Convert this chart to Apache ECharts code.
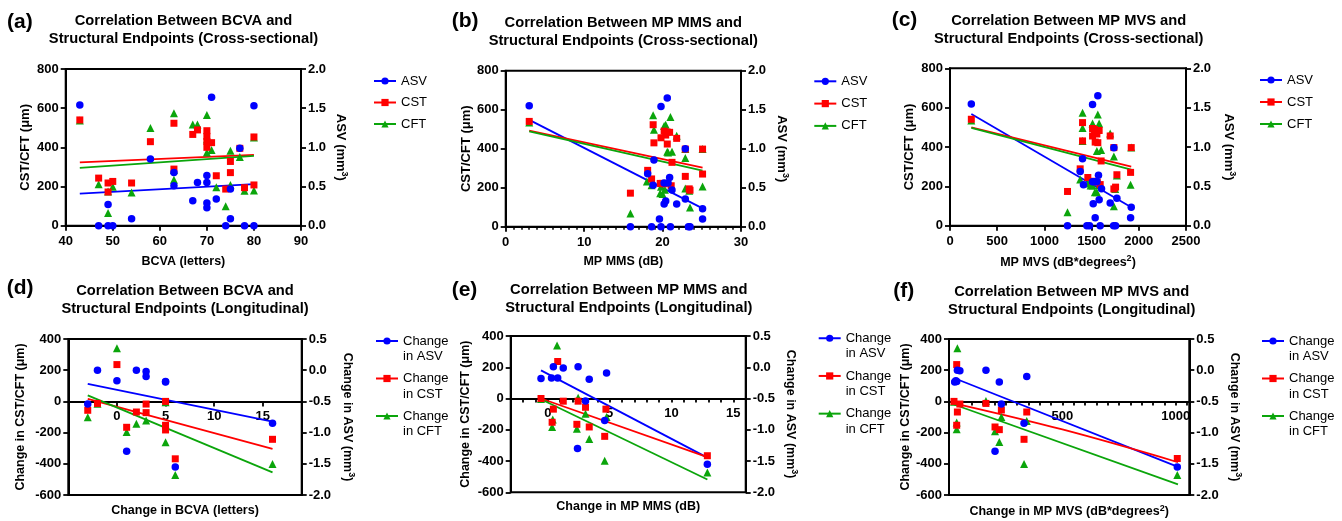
<!DOCTYPE html>
<html><head><meta charset="utf-8">
<script src="https://cdn.jsdelivr.net/npm/echarts@6/dist/echarts.min.js"></script>
<style>html,body{margin:0;padding:0;background:#fff}#c{width:1342px;height:521px}</style>
</head><body><div id="c"></div>
<script>
// ---------- DATA ----------
// (a) BCVA cross-sectional
const a_ASV = [[43,1.54],[71,1.64],[80,1.53],[58,0.85],[63,0.68],[63,0.51],[68,0.55],[70,0.64],[70,0.55],[67,0.32],[70,0.29],[70,0.23],[72,0.34],[75,0.47],[77,0.99],[49,0.27],[54,0.09],[75,0.09],[47,0],[49,0],[50,0],[74,0],[78,0],[80,0]];
const a_CST = [[43,540],[47,243],[49,218],[50,226],[49,172],[54,218],[58,429],[63,523],[63,289],[67,466],[68,489],[70,485],[70,456],[70,430],[70,400],[71,424],[72,255],[75,328],[75,271],[74,187],[77,395],[78,194],[80,453],[80,208]];
const a_CFT = [[43,537],[47,211],[49,65],[49,175],[50,199],[54,170],[58,499],[63,574],[63,235],[67,517],[68,517],[70,565],[70,374],[70,440],[71,386],[72,196],[74,99],[75,383],[75,208],[77,351],[78,179],[80,180],[80,450],[63,285]];
const a_fitASV = [[43,0.41],[80,0.53]];
const a_fitCST = [[43,323],[80,362]];
const a_fitCFT = [[43,295],[80,356]];
// (b) MP MMS cross-sectional
const b_ASV = [[3,1.55],[20.6,1.65],[19.8,1.54],[18.9,0.855],[18.1,0.68],[18.8,0.53],[20.2,0.56],[20.7,0.56],[20.9,0.63],[21.2,0.47],[20.2,0.29],[20.4,0.33],[21.8,0.29],[22.9,1.0],[22.9,0.355],[25.1,0.23],[25.1,0.1],[19.6,0.1],[15.9,0],[18.6,0],[19.8,0],[21.0,0],[23.3,0],[23.5,0]];
const b_CST = [[3,540],[15.9,172],[18.1,289],[18.6,245],[18.8,523],[18.9,430],[19.8,456],[19.7,222],[20.2,220],[20.2,490],[20.6,485],[20.9,484],[20.6,424],[21.2,330],[21.8,453],[21.1,210],[22.9,258],[22.9,398],[23.4,194],[23.5,187],[25.1,398],[25.1,270],[20.4,470],[20.0,222]];
const b_CFT = [[3,535],[15.9,68],[18.0,232],[18.8,572],[18.9,497],[18.6,212],[19.7,172],[20.0,168],[20.2,516],[20.4,523],[21.0,563],[20.6,385],[21.2,385],[21.8,466],[22.9,352],[22.9,196],[23.5,99],[25.1,206],[19.8,205],[20.7,380],[20.3,190],[25.1,398],[22.9,398],[23.4,185]];
const b_fitASV = [[3,1.37],[25.1,0.235]];
const b_fitCST = [[3,493],[25.1,303]];
const b_fitCFT = [[3,489],[25.1,287]];
// (c) MP MVS cross-sectional
const c_ASV = [[226,1.545],[1566,1.65],[1510,1.54],[1404,0.85],[1379,0.69],[1414,0.52],[1510,0.56],[1531,0.56],[1556,0.56],[1573,0.64],[1605,0.47],[1517,0.28],[1580,0.33],[1697,0.29],[1768,0.35],[1736,0.99],[1920,0.235],[1913,0.1],[1538,0.1],[1245,0],[1450,0],[1478,0],[1591,0],[1733,0],[1754,0]];
const c_CST = [[226,541],[1245,174],[1379,289],[1404,524],[1404,431],[1460,245],[1510,494],[1531,489],[1580,484],[1510,456],[1538,425],[1566,422],[1510,226],[1560,221],[1601,329],[1591,209],[1697,456],[1736,187],[1754,196],[1768,259],[1920,397],[1913,271],[1736,397],[1556,466]];
const c_CFT = [[226,535],[1245,68],[1404,574],[1404,497],[1379,235],[1510,519],[1580,519],[1566,565],[1556,380],[1601,385],[1697,468],[1736,352],[1510,204],[1535,170],[1556,170],[1490,204],[1736,99],[1750,187],[1913,208],[1920,398],[1404,430],[1460,215],[1580,205],[1768,255]];
const c_fitASV = [[226,1.42],[1920,0.235]];
const c_fitCST = [[226,500],[1920,300]];
const c_fitCFT = [[226,497],[1920,285]];
// (d) BCVA longitudinal
const d_ASV = [[-3,-0.54],[-2,0.0],[0,-0.17],[2,0.0],[3,-0.02],[3,-0.1],[5,-0.18],[5,-0.19],[1,-1.3],[6,-1.55],[16,-0.85]];
const d_CST = [[-3,-57],[-2,-13],[0,236],[1,-166],[2,-68],[3,-17],[3,-72],[5,0],[5,-153],[5,-183],[6,-368],[16,-243]];
const d_CFT = [[-3,-102],[0,340],[1,-196],[2,-143],[3,-123],[5,-262],[6,-472],[16,-402],[-2,-15],[5,-5]];
const d_fitASV = [[-3,-0.22],[16,-0.825]];
const d_fitCST = [[-3,16],[16,-305]];
const d_fitCFT = [[-3,39],[16,-455]];
// (e) MP MMS longitudinal
const e_ASV = [[-0.55,-0.18],[0.3,-0.17],[0.45,0.01],[0.8,-0.17],[1.25,-0.01],[2.45,0.01],[3.35,-0.19],[4.75,-0.09],[3.05,-0.54],[4.6,-0.85],[2.4,-1.3],[12.9,-1.55]];
const e_CST = [[-0.55,0],[0.45,-68],[0.35,-152],[0.8,237],[1.25,-17],[2.45,-17],[3.05,-56],[2.35,-165],[3.35,-182],[4.7,-68],[4.6,-242],[12.9,-366]];
const e_CFT = [[0.75,340],[0.35,-182],[0.4,-135],[2.35,-193],[3.05,-98],[3.35,-259],[4.6,-398],[12.9,-473],[-0.55,-3],[2.45,5],[4.75,-118]];
const e_fitASV = [[-0.55,-0.05],[12.9,-1.445]];
const e_fitCST = [[-0.55,0],[12.9,-375]];
const e_fitCFT = [[-0.55,-5],[12.9,-518]];
// (f) MP MVS longitudinal
const f_ASV = [[25,-0.19],[34,-0.18],[37,0.0],[48,-0.01],[30,-0.17],[163,0.0],[222,-0.19],[343,-0.1],[231,-0.54],[331,-0.85],[203,-1.3],[1007,-1.55]];
const f_CST = [[22,0],[34,236],[37,-68],[34,-153],[48,-17],[163,-13],[203,-164],[222,-181],[231,-55],[331,-243],[343,-68],[1007,-366]];
const f_CFT = [[37,340],[34,-179],[34,-136],[203,-191],[222,-260],[231,-100],[331,-402],[343,-126],[1007,-472],[163,2],[22,-3]];
const f_fitASV = [[30,-0.137],[1010,-1.548]];
const f_fitCST = [[22,-12],[500,-180],[1010,-390]];
const f_fitCFT = [[22,-20],[1010,-532]];

// tick labels
const ticksA = [40,50,60,70,80,90];
const ticksB = [0,10,20,30];
const ticksC = [0,500,1000,1500,2000,2500];
const ticksD = [0,5,10,15];
const ticksE = [0,5,10,15];
const ticksF = [500,1000];

const namesCross = ['ASV','CST','CFT'];
const namesLong = ['Change in ASV','Change in CST','Change in CFT'];

// ---------- LAYOUT / STYLE ----------
const FONT = '"Liberation Sans", Arial, Helvetica, sans-serif';
const COLORS = ['#0000FF','#FF0000','#0BA50B'];
const SYMBOLS = ['circle','rect','triangle'];
const SYMSIZE = [7.5,7,8];
function txt(size, bold){ return {fontFamily:FONT, fontSize:size, fontWeight:bold?'bold':'normal', color:'#000'}; }
const sup = {fontFamily:FONT, fontSize:9, fontWeight:'bold', color:'#000', padding:[0,0,7,0]};

const panels = [
 {letter:'(a)', lx:7, ly:11.5, title:'Correlation Between BCVA and\nStructural Endpoints (Cross-sectional)', tx:183.5, ty:12,
  grid:{left:65.7, top:69, width:235.3, height:156.7}, x:[40,90,10], ticks:ticksA, tickLen:5, minor:false, onZero:false, lblMargin:9,
  yl:[0,800,200], yr:[0,2,0.5], xName:'BCVA (letters)', xGap:29, yNameL:'CST/CFT (μm)', yNameR:'ASV (mm{s|3})', gapL:34, gapR:31.5, ySize:13,
  data:[a_ASV,a_CST,a_CFT], fits:[a_fitASV,a_fitCST,a_fitCFT], names:namesCross, lg:{left:373, top:74.5, gap:8.5}},
 {letter:'(b)', lx:451.7, ly:10.5, title:'Correlation Between MP MMS and\nStructural Endpoints (Cross-sectional)', tx:623.3, ty:13.7,
  grid:{left:505.7, top:70.7, width:235.3, height:156}, x:[0,30,10], ticks:ticksB, tickLen:5, minor:true, onZero:false, lblMargin:9,
  yl:[0,800,200], yr:[0,2,0.5], xName:'MP MMS (dB)', xGap:28.5, yNameL:'CST/CFT (μm)', yNameR:'ASV (mm{s|3})', gapL:33, gapR:33, ySize:13,
  data:[b_ASV,b_CST,b_CFT], fits:[b_fitASV,b_fitCST,b_fitCFT], names:namesCross, lg:{left:813.3, top:74.8, gap:9.3}},
 {letter:'(c)', lx:891.7, ly:9.5, title:'Correlation Between MP MVS and\nStructural Endpoints (Cross-sectional)', tx:1068.7, ty:12,
  grid:{left:950, top:68.3, width:236, height:157.4}, x:[0,2500,500], ticks:ticksC, tickLen:5, minor:false, onZero:false, lblMargin:9,
  yl:[0,800,200], yr:[0,2,0.5], xName:'MP MVS (dB*degrees{s|2})', xGap:28.5, yNameL:'CST/CFT (μm)', yNameR:'ASV (mm{s|3})', gapL:34, gapR:34.5, ySize:13,
  data:[c_ASV,c_CST,c_CFT], fits:[c_fitASV,c_fitCST,c_fitCFT], names:namesCross, lg:{left:1259, top:73.5, gap:9}},
 {letter:'(d)', lx:6.7, ly:278, title:'Correlation Between BCVA and\nStructural Endpoints (Longitudinal)', tx:185, ty:282,
  grid:{left:68.3, top:339, width:233.4, height:156}, x:[-5,19,5], ticks:ticksD, tickLen:5, minor:false, onZero:true, lblMargin:-85,
  yl:[-600,400,200], yr:[-2,0.5,0.5], xName:'Change in BCVA (letters)', xGap:8.7, yNameL:'Change in CST/CFT (μm)', yNameR:'Change in ASV (mm{s|3})', gapL:41, gapR:38, ySize:12.5,
  data:[d_ASV,d_CST,d_CFT], fits:[d_fitASV,d_fitCST,d_fitCFT], names:namesLong, lg:{left:375, top:317.75, gap:-9}},
 {letter:'(e)', lx:451.7, ly:279.5, title:'Correlation Between MP MMS and\nStructural Endpoints (Longitudinal)', tx:628.8, ty:281,
  grid:{left:510.7, top:336, width:235, height:156.3}, x:[-3,16,1], ticks:ticksE, tickLen:4, minor:false, onZero:true, lblMargin:-85,
  yl:[-600,400,200], yr:[-2,0.5,0.5], xName:'Change in MP MMS (dB)', xGap:8, yNameL:'Change in CST/CFT (μm)', yNameR:'Change in ASV (mm{s|3})', gapL:38.5, gapR:37, ySize:12.5,
  data:[e_ASV,e_CST,e_CFT], fits:[e_fitASV,e_fitCST,e_fitCFT], names:namesLong, lg:{left:817.7, top:315, gap:-8.8}},
 {letter:'(f)', lx:893.3, ly:280.5, title:'Correlation Between MP MVS and\nStructural Endpoints (Longitudinal)', tx:1071.7, ty:283.3,
  grid:{left:949, top:339, width:240.3, height:156}, x:[0,1060,50], ticks:ticksF, tickLen:4, minor:false, onZero:true, lblMargin:-85,
  yl:[-600,400,200], yr:[-2,0.5,0.5], xName:'Change in MP MVS (dB*degrees{s|2})', xGap:8.7, yNameL:'Change in CST/CFT (μm)', yNameR:'Change in ASV (mm{s|3})', gapL:33.5, gapR:37.5, ySize:12.5,
  data:[f_ASV,f_CST,f_CFT], fits:[f_fitASV,f_fitCST,f_fitCFT], names:namesLong, lg:{left:1261, top:317.75, gap:-9}}
];

const axisLineStyle = {color:'#000', width:2};
const option = {animation:false, backgroundColor:'#fff', title:[], grid:[], xAxis:[], yAxis:[], series:[], legend:[]};

panels.forEach((p,i)=>{
  const long = p.names === namesLong;
  option.title.push({text:p.letter, left:p.lx, top:p.ly, padding:0, textStyle:txt(21,true)});
  option.title.push({text:p.title, left:p.tx, top:p.ty, padding:0, textAlign:'center', textStyle:Object.assign(txt(14.7,true),{lineHeight:18})});
  option.grid.push(Object.assign({show:true, borderColor:'#000', borderWidth:2, backgroundColor:'transparent', outerBoundsMode:'none'}, p.grid));
  const tk = p.ticks;
  option.xAxis.push({gridIndex:i, type:'value', min:p.x[0], max:p.x[1], interval:p.x[2],
    axisLine:{show:true, onZero:p.onZero, onZeroAxisIndex:2*i, lineStyle:axisLineStyle},
    axisTick:{show:true, length:p.tickLen, lineStyle:{color:'#000', width:1.8}},
    minorTick:{show:p.minor, splitNumber:10, length:3, lineStyle:{color:'#000', width:1.5}},
    axisLabel:Object.assign(txt(13,true),{margin:p.lblMargin, interval:0, hideOverlap:false, formatter:v=> tk.indexOf(v)>=0 ? String(v) : ''}),
    splitLine:{show:false}, minorSplitLine:{show:false},
    name:p.xName, nameLocation:'middle', nameGap:p.xGap, nameTextStyle:Object.assign(txt(12.5,true),{rich:{s:sup}})});
  option.yAxis.push({gridIndex:i, type:'value', position:'left', min:p.yl[0], max:p.yl[1], interval:p.yl[2],
    axisLine:{show:true, onZero:false, lineStyle:axisLineStyle}, axisTick:{show:true, length:5, lineStyle:{color:'#000', width:1.8}},
    axisLabel:Object.assign(txt(13,true),{margin:7, formatter:v=>String(v)}), splitLine:{show:false},
    name:p.yNameL, nameLocation:'middle', nameGap:p.gapL, nameTextStyle:txt(p.ySize,true)});
  option.yAxis.push({gridIndex:i, type:'value', position:'right', min:p.yr[0], max:p.yr[1], interval:p.yr[2],
    axisLine:{show:true, onZero:false, lineStyle:axisLineStyle}, axisTick:{show:true, length:5, lineStyle:{color:'#000', width:1.8}},
    axisLabel:Object.assign(txt(13,true),{margin:7, formatter:v=>v.toFixed(1)}), splitLine:{show:false},
    name:p.yNameR, nameLocation:'middle', nameRotate:-90, nameGap:p.gapR, nameTextStyle:Object.assign(txt(p.ySize,true),{rich:{s:sup}})});
  [0,1,2].forEach(k=>{
    option.series.push({type:'line', name:p.names[k], xAxisIndex:i, yAxisIndex: k===0 ? 2*i+1 : 2*i,
      data:p.fits[k], showSymbol:false, symbol:SYMBOLS[k], symbolSize:SYMSIZE[k], smooth: p.fits[k].length>2 ? 0.4 : false,
      lineStyle:{color:COLORS[k], width:1.8}, itemStyle:{color:COLORS[k]}, z:2, silent:true});
  });
  [2,1,0].forEach(k=>{
    option.series.push({type:'scatter', name:p.names[k], xAxisIndex:i, yAxisIndex: k===0 ? 2*i+1 : 2*i,
      data:p.data[k], symbol:SYMBOLS[k], symbolSize:SYMSIZE[k], itemStyle:{color:COLORS[k], opacity:1}, z:3, silent:true});
  });
  const lgText = long ? Object.assign(txt(13,false),{lineHeight:15.5}) : txt(13,false);
  option.legend.push({orient:'vertical', left:p.lg.left, top:p.lg.top, padding:0, itemWidth:22, itemHeight:9, itemGap:p.lg.gap,
    selectedMode:false, data:p.names, textStyle:lgText,
    formatter: long ? (n=>' \n' + n.replace('Change ','Change\n')) : (n=>n)});
});

const chart = echarts.init(document.getElementById('c'), null, {renderer:'canvas'});
chart.setOption(option);
</script>
</body></html>
